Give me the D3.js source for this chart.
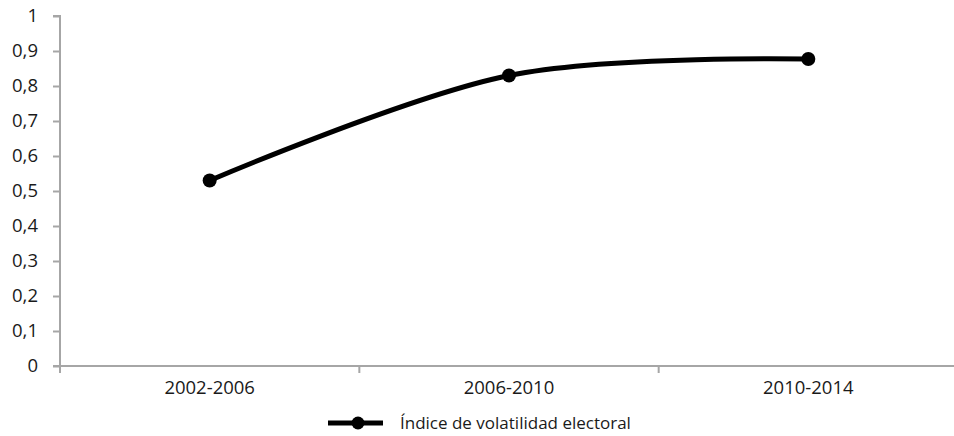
<!DOCTYPE html>
<html>
<head>
<meta charset="utf-8">
<script src="https://cdn.jsdelivr.net/npm/d3@7"></script>
<style>
  html, body { margin: 0; padding: 0; background: #fff; }
  svg text { font-family: "Open Sans", "Liberation Sans", sans-serif; fill: #1a1a1a; }
</style>
</head>
<body>
<svg id="chart" width="954" height="436"></svg>
<script>
// Electoral volatility index by period
const periods = ["2002-2006", "2006-2010", "2010-2014"];
const volatility = [0.53, 0.83, 0.877];
const yTicks = [0, 0.1, 0.2, 0.3, 0.4, 0.5, 0.6, 0.7, 0.8, 0.9, 1];
const seriesName = "Índice de volatilidad electoral";

const svg = d3.select("#chart");
const plotLeft = 60, plotRight = 958, plotTop = 16, plotBottom = 366;
const axisColor = "#a6a6a6";
const labelSize = 18.5;

const x = d3.scaleBand().domain(periods).range([plotLeft, plotRight]);
const y = d3.scaleLinear().domain([0, 1]).range([plotBottom, plotTop]);

// y axis
const yAxis = svg.append("g").attr("transform", `translate(${plotLeft},0)`)
  .call(d3.axisLeft(y).tickValues(yTicks).tickSize(7).tickPadding(15)
    .tickFormat(d => d3.format("")(d).replace(".", ",")));
yAxis.attr("font-size", null).attr("font-family", null);
yAxis.select(".domain").attr("stroke", axisColor).attr("stroke-width", 2)
  .attr("d", `M-7,${y(1)}H0V${plotBottom}`);
yAxis.selectAll(".tick line").attr("stroke", axisColor).attr("stroke-width", 2);
yAxis.selectAll(".tick text").style("font-size", labelSize + "px").attr("fill", "#1a1a1a");

// x axis with ticks between categories
const xAxis = svg.append("g").attr("transform", `translate(0,${plotBottom})`);
xAxis.append("line").attr("x1", plotLeft - 7).attr("x2", plotRight).attr("y1", 0).attr("y2", 0)
  .attr("stroke", axisColor).attr("stroke-width", 2);
const boundaries = periods.map(p => x(p)).concat([x(periods[periods.length - 1]) + x.bandwidth()]);
xAxis.selectAll("line.tk").data(boundaries).join("line").attr("class", "tk")
  .attr("x1", d => d).attr("x2", d => d).attr("y1", 0).attr("y2", 7)
  .attr("stroke", axisColor).attr("stroke-width", 2);
xAxis.selectAll("text").data(periods).join("text")
  .attr("x", d => x(d) + x.bandwidth() / 2).attr("y", 28)
  .attr("text-anchor", "middle").style("font-size", labelSize + "px").text(d => d);

// smoothed series line
const pts = periods.map((p, i) => [x(p) + x.bandwidth() / 2, y(volatility[i])]);
svg.append("path").datum(pts)
  .attr("d", d3.line().curve(d3.curveCatmullRom.alpha(0)))
  .attr("fill", "none").attr("stroke", "#000").attr("stroke-width", 5)
  .attr("stroke-linecap", "round");
svg.selectAll("circle.pt").data(pts).join("circle").attr("class", "pt")
  .attr("cx", d => d[0]).attr("cy", d => d[1]).attr("r", 7).attr("fill", "#000");

// legend
const lg = svg.append("g").attr("transform", "translate(328,423)");
lg.append("line").attr("x1", 0).attr("x2", 55).attr("y1", 0).attr("y2", 0)
  .attr("stroke", "#000").attr("stroke-width", 5);
lg.append("circle").attr("cx", 30).attr("cy", 0).attr("r", 6.5).attr("fill", "#000");
lg.append("text").attr("x", 72).attr("y", 6).style("font-size", "17px").text(seriesName);
</script>
</body>
</html>
